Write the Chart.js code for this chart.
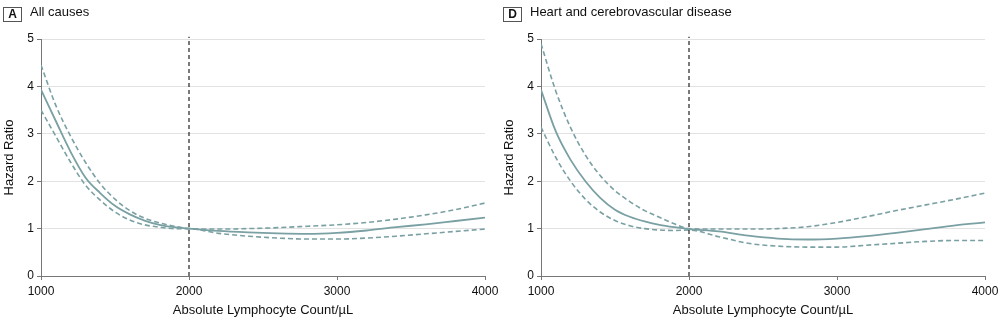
<!DOCTYPE html>
<html lang="en">
<head>
  <meta charset="UTF-8" />
  <title>Hazard Ratio by Absolute Lymphocyte Count</title>
  <script src="https://cdn.jsdelivr.net/npm/chart.js"></script>
  <style>
    body {
      margin: 0;
      background: #ffffff;
      font-family: "Liberation Sans", Arial, sans-serif;
      color: #111;
    }
    .panel {
      position: absolute;
      top: 0;
      width: 500px;
      height: 328px;
    }
    .panel canvas {
      position: absolute;
      left: 0;
      top: 0;
    }
    .tag {
      position: absolute;
      left: 3px;
      top: 7px;
      width: 17px;
      height: 13px;
      border: 1px solid #555;
      font-size: 12px;
      font-weight: bold;
      line-height: 13px;
      text-align: center;
    }
    .title {
      position: absolute;
      left: 30px;
      top: 4px;
      font-size: 13px;
      line-height: 16px;
      white-space: nowrap;
    }
  </style>
</head>
<body>
  <div class="panel" style="left:0">
    <canvas id="chartA" width="500" height="328"></canvas>
    <div class="tag">A</div>
    <div class="title">All causes</div>
  </div>
  <div class="panel" style="left:500px">
    <canvas id="chartD" width="500" height="328"></canvas>
    <div class="tag">D</div>
    <div class="title">Heart and cerebrovascular disease</div>
  </div>

  <script>
    // lymphocyte counts where the curves were read
    const counts = [1000, 1100, 1200, 1300, 1400, 1500, 1600, 1700, 1800, 1900, 2000,
                    2200, 2400, 2600, 2800, 3000, 3200, 3400, 3600, 3800, 4000];

    // panel A - all causes
    const hrA    = [3.93, 3.27, 2.62, 2.08, 1.75, 1.48, 1.3, 1.17, 1.08, 1.03, 1.0,
                    0.95, 0.92, 0.9, 0.89, 0.91, 0.96, 1.03, 1.09, 1.16, 1.23];
    const upperA = [4.45, 3.6, 2.95, 2.4, 1.95, 1.62, 1.38, 1.22, 1.12, 1.05, 1.0,
                    0.99, 1.0, 1.02, 1.05, 1.08, 1.13, 1.2, 1.29, 1.4, 1.54];
    const lowerA = [3.5, 2.95, 2.4, 1.92, 1.6, 1.35, 1.18, 1.08, 1.03, 1.0, 1.0,
                    0.9, 0.84, 0.8, 0.78, 0.78, 0.8, 0.84, 0.89, 0.94, 0.99];

    // panel D - heart and cerebrovascular disease
    const hrD    = [3.93, 3.05, 2.45, 2.0, 1.65, 1.4, 1.25, 1.15, 1.08, 1.03, 0.99,
                    0.94, 0.85, 0.79, 0.77, 0.79, 0.84, 0.91, 0.99, 1.07, 1.13];
    const upperD = [4.9, 3.9, 3.13, 2.55, 2.12, 1.8, 1.57, 1.38, 1.24, 1.1, 1.0,
                    0.99, 0.99, 1.0, 1.04, 1.13, 1.25, 1.38, 1.5, 1.62, 1.75];
    const lowerD = [3.14, 2.5, 2.0, 1.62, 1.35, 1.17, 1.06, 1.0, 0.97, 0.96, 0.97,
                    0.83, 0.69, 0.63, 0.61, 0.61, 0.65, 0.69, 0.73, 0.75, 0.75];

    const xTicks = [1000, 2000, 3000, 4000];
    const yTicks = [0, 1, 2, 3, 4, 5];
    const refCount = 2000;

    const curveColor = 'rgb(122,160,163)';
    const axisColor = '#777';
    const textColor = '#111';
    const fontFamily = '"Liberation Sans", Arial, sans-serif';

    function toPoints(vals) {
      return counts.map((c, i) => ({ x: c, y: vals[i] }));
    }

    function makePanel(id, mid, upper, lower) {
      const ctx = document.getElementById(id).getContext('2d');
      const curve = (vals, dashed) => ({
        data: toPoints(vals),
        borderColor: curveColor,
        borderWidth: dashed ? 1.6 : 1.8,
        borderDash: dashed ? [5, 3] : [],
        pointRadius: 0,
        cubicInterpolationMode: 'monotone',
        fill: false
      });

      return new Chart(ctx, {
        type: 'line',
        data: {
          datasets: [
            {
              data: [{ x: refCount, y: 0 }, { x: refCount, y: 5.05 }],
              borderColor: '#222',
              borderWidth: 1.2,
              borderDash: [4, 3],
              pointRadius: 0,
              clip: false
            },
            curve(upper, true),
            curve(lower, true),
            curve(mid, false)
          ]
        },
        options: {
          responsive: false,
          animation: false,
          layout: { padding: { top: 39, right: 15, left: 0, bottom: 0 } },
          plugins: {
            legend: { display: false },
            tooltip: { enabled: false }
          },
          scales: {
            x: {
              type: 'linear',
              min: 1000,
              max: 4000,
              afterBuildTicks: s => { s.ticks = xTicks.map(v => ({ value: v })); },
              afterFit: s => {
                s.height = 52;
                s.paddingLeft = 0;
                s.paddingRight = 0;
              },
              grid: {
                drawOnChartArea: false,
                tickLength: 4,
                tickColor: axisColor
              },
              border: { color: axisColor, width: 1 },
              ticks: {
                padding: 4,
                maxRotation: 0,
                color: textColor,
                font: { family: fontFamily, size: 12 },
                callback: v => String(v)
              },
              title: {
                display: true,
                text: 'Absolute Lymphocyte Count/µL',
                color: textColor,
                font: { family: fontFamily, size: 13 },
                padding: { bottom: 10, top: 0 }
              }
            },
            y: {
              min: 0,
              max: 5,
              afterBuildTicks: s => { s.ticks = yTicks.map(v => ({ value: v })); },
              afterFit: s => { s.width = 41; },
              grid: {
                color: '#e2e2e2',
                tickColor: axisColor,
                tickLength: 4
              },
              border: { color: axisColor, width: 1 },
              ticks: {
                padding: 3,
                color: textColor,
                font: { family: fontFamily, size: 12 }
              },
              title: {
                display: true,
                text: 'Hazard Ratio',
                color: textColor,
                font: { family: fontFamily, size: 13 },
                padding: { top: 2, bottom: 0 }
              }
            }
          }
        }
      });
    }

    makePanel('chartA', hrA, upperA, lowerA);
    makePanel('chartD', hrD, upperD, lowerD);
  </script>
</body>
</html>
